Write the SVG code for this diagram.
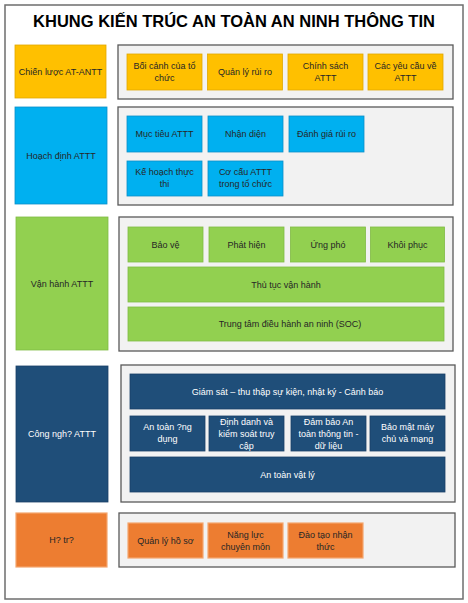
<svg xmlns="http://www.w3.org/2000/svg" width="468" height="603" viewBox="0 0 468 603">
<style>
text{font-family:"Liberation Sans",Arial,sans-serif;font-size:9px;text-anchor:middle;fill:#262626}
.title{font-size:16.5px;font-weight:bold;fill:#000}
.wt{fill:#fff}
.cont{fill:#f2f2f2;stroke:#595959;stroke-width:1.3}
.y{fill:#ffc000;stroke:#e0a800;stroke-width:0.8}
.b{fill:#00b0f0;stroke:#0a90c8;stroke-width:0.8}
.g{fill:#92d050;stroke:#80bb44;stroke-width:0.8}
.d{fill:#1f4e79;stroke:#1a4068;stroke-width:0.8}
.o{fill:#ed7d31;stroke:#f4a66e;stroke-width:1.2}
</style>
<rect x="0" y="0" width="468" height="603" fill="#fff"/>
<rect x="5" y="5" width="458" height="594" fill="#fff" stroke="#6e6e6e" stroke-width="1.5"/>
<text class="title" x="234" y="27">KHUNG KIẾN TRÚC AN TOÀN AN NINH THÔNG TIN</text>
<g id="connectors"></g>

<!-- Row 1 -->
<g id="row1-left"><rect class="y" x="15" y="45" width="91" height="53"/><text x="60.5" y="74.5">Chiến lược AT-ANTT</text></g>
<g id="row1-container"><rect class="cont" x="118" y="45" width="335" height="54"/></g>
<g id="n-boi-canh"><rect class="y" x="127" y="54" width="75" height="36"/><text x="164.5" y="69">Bối cảnh của tổ</text><text x="164.5" y="81">chức</text></g>
<g id="n-quan-ly-rui-ro"><rect class="y" x="207.5" y="54" width="75" height="36"/><text x="245" y="75">Quản lý rủi ro</text></g>
<g id="n-chinh-sach"><rect class="y" x="288" y="54" width="75" height="36"/><text x="325.5" y="69">Chính sách</text><text x="325.5" y="81">ATTT</text></g>
<g id="n-yeu-cau"><rect class="y" x="368" y="54" width="75" height="36"/><text x="405.5" y="69">Các yêu cầu về</text><text x="405.5" y="81">ATTT</text></g>

<!-- Row 2 -->
<g id="row2-left"><rect class="b" x="15" y="107" width="92" height="97"/><text x="61" y="159">Hoạch định ATTT</text></g>
<g id="row2-container"><rect class="cont" x="118" y="107" width="335" height="98"/></g>
<g id="n-muc-tieu"><rect class="b" x="127" y="116" width="75" height="36"/><text x="164.5" y="137">Mục tiêu ATTT</text></g>
<g id="n-nhan-dien"><rect class="b" x="208" y="116" width="75" height="36"/><text x="245.5" y="137">Nhận diện</text></g>
<g id="n-danh-gia"><rect class="b" x="289" y="116" width="75" height="36"/><text x="326.5" y="137">Đánh giá rủi ro</text></g>
<g id="n-ke-hoach"><rect class="b" x="127" y="161" width="75" height="35"/><text x="164.5" y="175">Kế hoạch thực</text><text x="164.5" y="187">thi</text></g>
<g id="n-co-cau"><rect class="b" x="208" y="161" width="75" height="35"/><text x="245.5" y="175">Cơ cấu ATTT</text><text x="245.5" y="187">trong tổ chức</text></g>

<!-- Row 3 -->
<g id="row3-left"><rect class="g" x="16" y="217" width="92" height="133"/><text x="62" y="287">Vận hành ATTT</text></g>
<g id="row3-container"><rect class="cont" x="119" y="217" width="334" height="134"/></g>
<g id="n-bao-ve"><rect class="g" x="128" y="227" width="75" height="35"/><text x="165.5" y="247.5">Bảo vệ</text></g>
<g id="n-phat-hien"><rect class="g" x="209" y="227" width="75" height="35"/><text x="246.5" y="247.5">Phát hiện</text></g>
<g id="n-ung-pho"><rect class="g" x="290.5" y="227" width="75" height="35"/><text x="328" y="247.5">Ứng phó</text></g>
<g id="n-khoi-phuc"><rect class="g" x="370.5" y="227" width="74" height="35"/><text x="407.5" y="247.5">Khôi phục</text></g>
<g id="n-thu-tuc"><rect class="g" x="128" y="267" width="316" height="35"/><text x="286" y="287.5">Thủ tục vận hành</text></g>
<g id="n-soc"><rect class="g" x="128" y="307" width="316" height="34"/><text x="290" y="327">Trung tâm điều hành an ninh (SOC)</text></g>

<!-- Row 4 -->
<g id="row4-left"><rect class="d" x="16" y="366" width="92" height="136"/><text class="wt" x="62" y="437">Công ngh? ATTT</text></g>
<g id="row4-container"><rect class="cont" x="121" y="365" width="334" height="137"/></g>
<g id="n-giam-sat"><rect class="d" x="130" y="374" width="315" height="35"/><text class="wt" x="287.5" y="394.5">Giám sát – thu thập sự kiện, nhật ký - Cảnh báo</text></g>
<g id="n-ung-dung"><rect class="d" x="130" y="416" width="75" height="35"/><text class="wt" x="167.5" y="430">An toàn ?ng</text><text class="wt" x="167.5" y="442">dụng</text></g>
<g id="n-dinh-danh"><rect class="d" x="209" y="416" width="75" height="35"/><text class="wt" x="246.5" y="425">Định danh và</text><text class="wt" x="246.5" y="437">kiểm soát truy</text><text class="wt" x="246.5" y="449">cập</text></g>
<g id="n-dam-bao"><rect class="d" x="291" y="416" width="75" height="35"/><text class="wt" x="328.5" y="425">Đảm bảo An</text><text class="wt" x="328.5" y="437">toàn thông tin -</text><text class="wt" x="328.5" y="449">dữ liệu</text></g>
<g id="n-bao-mat"><rect class="d" x="370" y="416" width="75" height="35"/><text class="wt" x="407.5" y="430">Bảo mật máy</text><text class="wt" x="407.5" y="442">chủ và mạng</text></g>
<g id="n-vat-ly"><rect class="d" x="130" y="457" width="315" height="35"/><text class="wt" x="287.5" y="477.5">An toàn vật lý</text></g>

<!-- Row 5 -->
<g id="row5-left"><rect class="o" x="16" y="513" width="91" height="54"/><text x="61.5" y="543">H? tr?</text></g>
<g id="row5-container"><rect class="cont" x="119" y="513" width="336" height="54"/></g>
<g id="n-ho-so"><rect class="o" x="128" y="523" width="75" height="35"/><text x="165.5" y="543.5">Quản lý hồ sơ</text></g>
<g id="n-nang-luc"><rect class="o" x="208" y="523" width="75" height="35"/><text x="245.5" y="537.5">Năng lực</text><text x="245.5" y="549.5">chuyên môn</text></g>
<g id="n-dao-tao"><rect class="o" x="288" y="523" width="75" height="35"/><text x="325.5" y="537.5">Đào tạo nhận</text><text x="325.5" y="549.5">thức</text></g>
</svg>
